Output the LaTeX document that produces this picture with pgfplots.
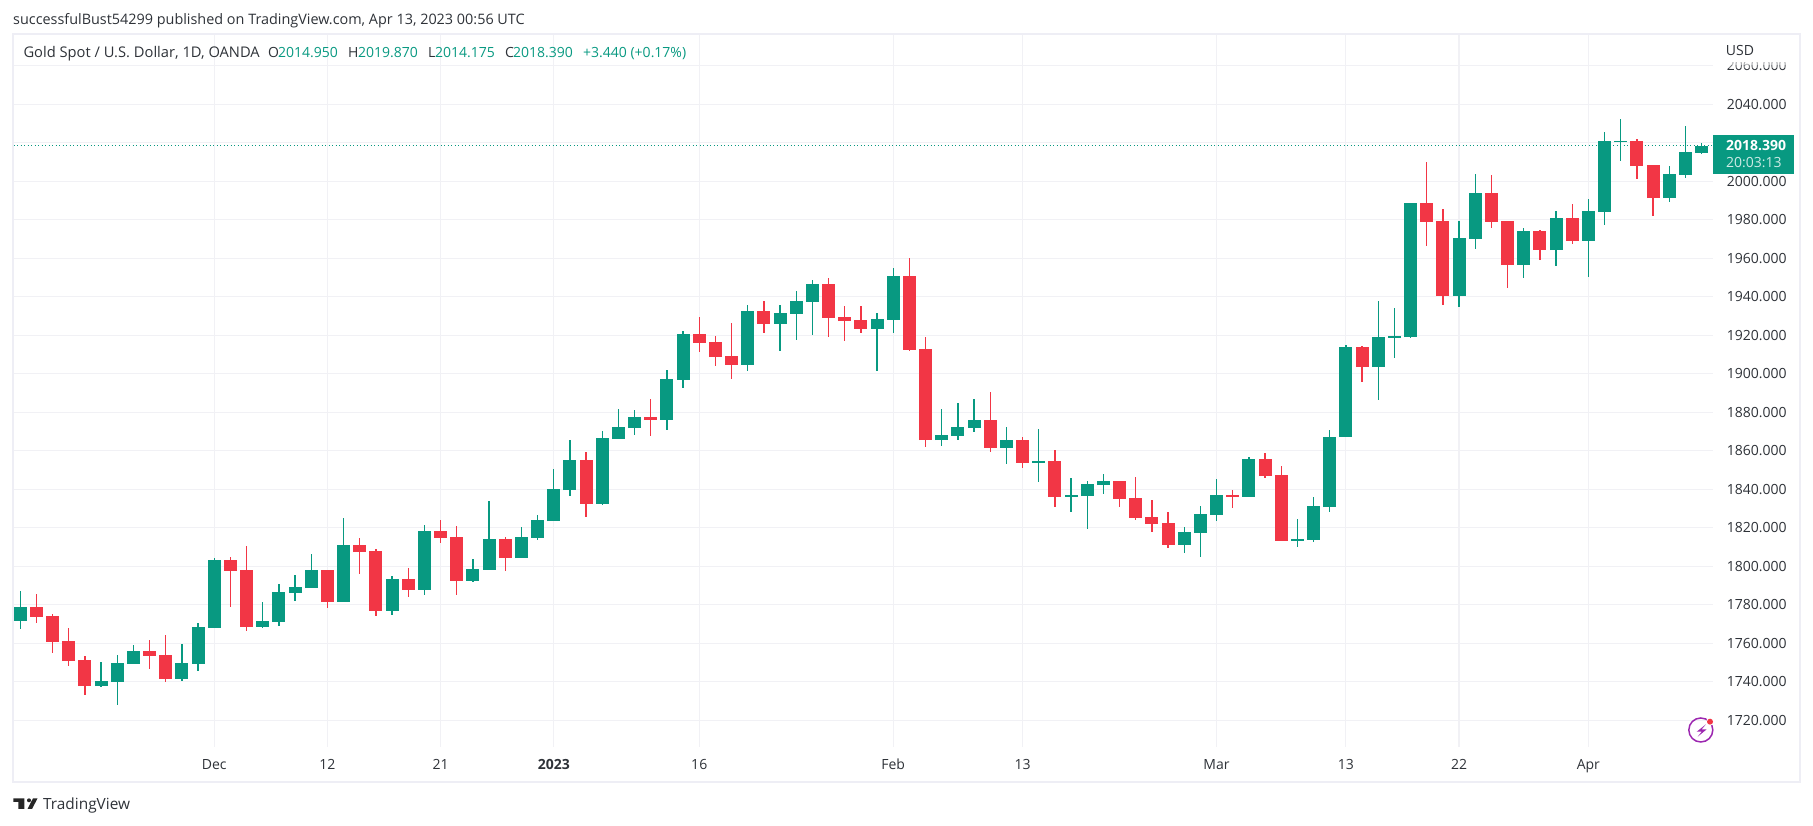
\documentclass[border=0pt]{standalone}
\usepackage{fontspec}
\setmainfont{Open Sans}
\usepackage{pgfplots}
\usepackage{pgfplotstable}
\pgfplotsset{compat=1.18}

\definecolor{tvgreen}{HTML}{089981}
\definecolor{tvred}{HTML}{F23645}
\definecolor{tvgrid}{HTML}{F1F1F5}
\definecolor{tvframe}{HTML}{EEEEF5}
\definecolor{tvtext}{HTML}{2E3238}
\definecolor{tvpurple}{HTML}{9C27B0}

% daily candles, i = bar number from the left
\pgfplotstableread{
i O H L C
0 1771.6 1787.2 1767.4 1778.9
5 1737.8 1750.3 1737.3 1740.4
6 1739.9 1753.9 1728.0 1749.8
7 1749.3 1759.1 1749.3 1756.0
10 1741.5 1759.6 1740.4 1749.8
11 1749.3 1770.5 1745.6 1768.5
12 1768.0 1804.3 1768.0 1803.3
15 1768.5 1781.5 1768.0 1771.6
16 1771.1 1790.8 1769.0 1786.7
17 1786.1 1795.5 1782.0 1789.3
18 1788.7 1806.4 1788.7 1798.1
20 1781.5 1825.1 1781.5 1811.1
23 1776.8 1795.0 1774.7 1793.4
25 1787.7 1821.5 1785.1 1818.3
28 1792.4 1803.8 1791.8 1798.6
29 1798.1 1833.9 1798.1 1814.2
31 1804.3 1820.4 1804.3 1815.2
32 1814.7 1826.7 1813.7 1824.1
33 1823.5 1850.6 1823.5 1840.2
34 1839.6 1865.6 1836.5 1855.2
36 1832.4 1870.3 1831.8 1866.7
37 1866.1 1881.7 1866.1 1872.4
38 1871.8 1881.2 1868.2 1877.6
40 1876.0 1902.0 1870.8 1897.3
41 1896.8 1922.2 1892.6 1920.7
45 1904.6 1935.7 1901.5 1932.6
47 1925.9 1935.7 1911.9 1931.6
48 1931.1 1943.0 1917.6 1937.8
49 1937.3 1948.7 1920.2 1946.7
53 1923.3 1931.6 1901.5 1928.5
54 1928.0 1955.0 1921.2 1950.8
57 1865.6 1881.7 1862.5 1868.2
58 1867.7 1884.8 1865.6 1872.4
59 1871.9 1886.9 1869.8 1876.0
61 1861.5 1872.4 1853.2 1865.6
63 1853.7 1871.3 1843.8 1854.7
65 1836.0 1845.9 1828.2 1837.0
66 1836.5 1844.3 1819.4 1842.8
67 1842.2 1848.0 1837.6 1844.3
72 1811.1 1820.4 1806.9 1817.8
73 1817.3 1831.3 1804.8 1827.2
74 1826.7 1845.4 1823.5 1837.0
76 1836.0 1856.8 1836.0 1855.7
79 1813.2 1824.6 1810.0 1814.2
80 1813.7 1836.0 1812.6 1831.3
81 1830.8 1870.8 1828.2 1867.2
82 1867.2 1915.0 1867.2 1913.9
84 1903.5 1937.8 1886.4 1919.1
85 1918.6 1934.2 1908.2 1919.6
86 1919.1 1988.7 1918.6 1988.7
89 1940.4 1979.4 1934.7 1970.5
90 1970.0 2003.8 1964.8 1993.9
93 1956.5 1975.7 1949.8 1974.2
95 1964.3 1984.6 1956.0 1980.9
97 1969.0 1990.8 1950.3 1984.6
98 1984.1 2025.6 1977.3 2020.9
99 2020.4 2032.4 2010.5 2020.9
102 1991.3 2007.9 1989.2 2003.8
103 2003.3 2028.7 2001.7 2015.2
104 2014.95 2019.87 2014.175 2018.39
}\upbars

\pgfplotstableread{
i O H L C
1 1778.9 1785.6 1770.5 1773.7
2 1774.2 1775.2 1755.0 1760.7
3 1761.2 1768.0 1748.2 1750.8
4 1751.3 1753.4 1733.1 1737.8
8 1756.0 1761.7 1746.7 1753.4
9 1753.9 1764.3 1739.9 1741.5
13 1803.3 1804.8 1778.9 1797.6
14 1798.1 1810.5 1766.4 1768.5
19 1798.1 1798.1 1778.3 1781.5
21 1811.1 1814.7 1796.0 1807.4
22 1808.0 1809.0 1774.2 1776.8
24 1793.4 1799.1 1784.1 1787.7
26 1818.3 1824.1 1812.1 1814.7
27 1815.2 1820.9 1785.1 1792.4
30 1814.2 1815.2 1797.6 1804.3
35 1855.2 1859.4 1825.6 1832.4
39 1877.6 1886.9 1867.7 1876.0
42 1920.7 1929.5 1911.3 1916.0
43 1916.5 1919.6 1904.1 1908.7
44 1909.3 1926.4 1897.3 1904.6
46 1932.6 1937.8 1921.2 1925.9
50 1946.7 1949.8 1919.1 1929.0
51 1929.5 1935.2 1917.0 1927.4
52 1928.0 1935.2 1921.2 1923.3
55 1950.8 1960.2 1911.9 1912.4
56 1912.9 1919.1 1862.0 1865.6
60 1876.0 1890.6 1859.4 1861.5
62 1865.6 1867.2 1851.1 1853.7
64 1854.7 1860.4 1830.8 1836.0
68 1844.3 1844.3 1830.8 1835.0
69 1835.5 1846.4 1824.1 1825.1
70 1825.6 1834.5 1817.8 1822.0
71 1822.5 1828.2 1809.5 1811.1
75 1837.0 1839.6 1830.3 1836.0
77 1855.7 1858.9 1845.9 1846.9
78 1847.4 1852.1 1813.2 1813.2
83 1913.9 1914.4 1895.7 1903.5
87 1988.7 2010.0 1966.4 1978.9
88 1979.4 1985.6 1935.7 1940.4
91 1993.9 2003.3 1975.7 1978.9
92 1979.4 1979.4 1944.6 1956.5
94 1974.2 1974.7 1959.1 1964.3
96 1980.9 1988.2 1967.4 1969.0
100 2020.9 2022.0 2001.2 2007.9
101 2008.5 2008.5 1982.0 1991.3
}\downbars

\pgfplotsset{
    bar part/.style 2 args={
        forget plot, draw=none, mark=none,
        error bars/.cd, y dir=both, y explicit, error mark=none,
        error bar style={draw=#1, solid, line width=#2}
    }
}

\newcommand{\txt}{\fontsize{14}{16}\selectfont}

\begin{document}
\begin{tikzpicture}
    \path[use as bounding box] (0,0) rectangle (1813pt,826pt);
    \begin{axis}[
        at={(13.5pt,79pt)}, anchor=south west,
        scale only axis,
        width=1699.5pt, height=712pt,
        xmin=-0.42, xmax=104.71,
        ymin=1706.13, ymax=2076,
        axis line style={draw=none},
        major tick length=0pt,
        grid=major,
        grid style={tvgrid, line width=1.2pt},
        xtick={12,19,26,33,42,54,62,74,82,89,97},
        xticklabels={Dec,12,21,\textbf{2023},16,Feb,13,Mar,13,22,Apr},
        x tick label style={font=\txt, color=tvtext, anchor=base, inner sep=0pt, yshift=-23pt},
        ytick={1720,1740,...,2060},
        yticklabel pos=right,
        y tick label style={font=\txt, color=tvtext, anchor=west, inner sep=0pt, xshift=13.7pt},
        yticklabel style={/pgf/number format/.cd, fixed, fixed zerofill, precision=3, 1000 sep={}, assume math mode=true},
    ]
        \addplot[forget plot, tvgreen, line width=1.2pt, dash pattern=on 1.2pt off 2.3pt] coordinates {(-0.42,2018.39) (104.71,2018.39)};

        % wicks
        \addplot[bar part={tvgreen}{1.3pt}] table[x=i, y=C, y error plus expr=\thisrow{H}-\thisrow{C}, y error minus expr=\thisrow{C}-\thisrow{L}] {\upbars};
        \addplot[bar part={tvred}{1.3pt}] table[x=i, y=C, y error plus expr=\thisrow{H}-\thisrow{C}, y error minus expr=\thisrow{C}-\thisrow{L}] {\downbars};
        % bodies
        \addplot[bar part={tvgreen}{13pt}] table[x=i, y=O, y error plus expr=\thisrow{C}-\thisrow{O}, y error minus expr=0] {\upbars};
        \addplot[bar part={tvred}{13pt}] table[x=i, y=C, y error plus expr=\thisrow{O}-\thisrow{C}, y error minus expr=0] {\downbars};
    \end{axis}

    % everything below is placed in image pixels, y down from the top
    \begin{scope}[shift={(0,826pt)}, x=1pt, y=-1pt]
        % fades the 2060 label under the USD caption
        \fill[white] (1716,36) rectangle (1798,62);
        \fill[white, opacity=0.6] (1716,62) rectangle (1798,65);
        \fill[white, opacity=0.3] (1716,65) rectangle (1798,68);
        \draw[tvframe, line width=2pt] (13,34.3) rectangle (1800,782);

        \node[anchor=base west, inner sep=0pt, font=\txt, tvtext] at (1725.7,55.5) {USD};
        \node[anchor=base west, inner sep=0pt, font=\fontsize{14.4}{16}\selectfont, tvtext] at (13,25) {successfulBust54299 published on TradingView.com, Apr 13, 2023 00:56 UTC};

        \node[anchor=base west, inner sep=0pt, font=\fontsize{14.7}{16}\selectfont, tvtext] at (23.3,58) {Gold Spot / U.S. Dollar, 1D, OANDA};
        \node[anchor=base west, inner sep=0pt, font=\txt, tvtext] at (268,58) {O};
        \node[anchor=base west, inner sep=0pt, font=\txt, tvgreen] at (278,58) {2014.950};
        \node[anchor=base west, inner sep=0pt, font=\txt, tvtext] at (348,58) {H};
        \node[anchor=base west, inner sep=0pt, font=\txt, tvgreen] at (358,58) {2019.870};
        \node[anchor=base west, inner sep=0pt, font=\txt, tvtext] at (428,58) {L};
        \node[anchor=base west, inner sep=0pt, font=\txt, tvgreen] at (435,58) {2014.175};
        \node[anchor=base west, inner sep=0pt, font=\txt, tvtext] at (505,58) {C};
        \node[anchor=base west, inner sep=0pt, font=\txt, tvgreen] at (513,58) {2018.390};
        \node[anchor=base west, inner sep=0pt, font=\txt, tvgreen] at (583,58) {+3.440 (+0.17\%)};

        % last price tag
        \fill[tvgreen] (1713.3,135) rectangle (1794,173.7);
        \node[anchor=base west, inner sep=0pt, font=\txt\bfseries, white] at (1726,150.5) {2018.390};
        \node[anchor=base west, inner sep=0pt, font=\txt, white!80!tvgreen] at (1726,168) {20:03:13};

        % bolt badge
        \draw[tvpurple, line width=1.5pt] (1700.8,730) circle (12);
        \fill[tvpurple] (1706,724.3) -- (1696.7,731.7) -- (1701.7,731.7) -- (1697.7,736.7) -- (1706.7,729.3) -- (1701.7,729.3) -- cycle;
        \fill[white] (1710,721.7) circle (4);
        \fill[tvred] (1710,721.7) circle (3);

        % logo
        \fill[black!85] (13.3,798.3) -- (24.3,798.3) -- (24.3,809) -- (18.3,809) -- (18.3,802) -- (13.3,802) -- cycle;
        \fill[black!85] (29,800.3) circle (2);
        \fill[black!85] (37.6,798.3) -- (33,798.3) -- (27.5,809) -- (32,809) -- cycle;
        \node[anchor=base west, inner sep=0pt, font=\fontsize{15.4}{18}\selectfont, tvtext] at (43,810) {TradingView};
    \end{scope}
\end{tikzpicture}
\end{document}
